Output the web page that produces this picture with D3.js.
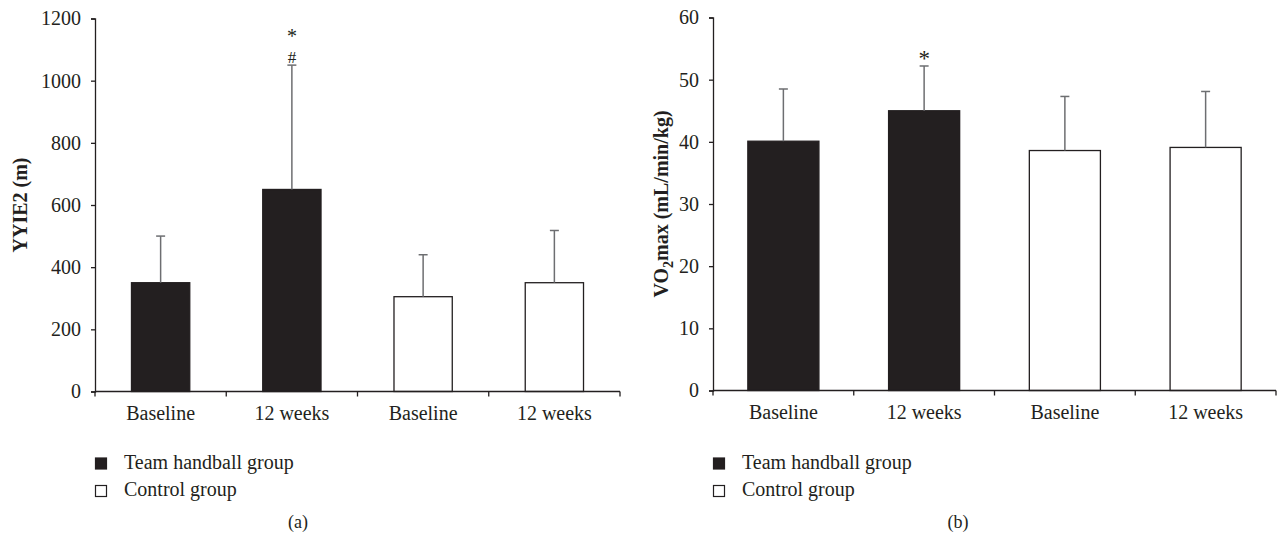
<!DOCTYPE html>
<html>
<head>
<meta charset="utf-8">
<script src="https://cdn.jsdelivr.net/npm/d3@7/dist/d3.min.js"></script>
<style>
  html, body { margin: 0; padding: 0; background: #fff; }
  svg { display: block; }
  text { font-family: "Liberation Serif", "DejaVu Serif", serif; fill: #231f20; }
</style>
</head>
<body>
<svg id="chart" width="1277" height="543" font-family="'Liberation Serif', 'DejaVu Serif', serif"></svg>
<script>
// ---- data ----
const categories = ["Baseline", "12 weeks", "Baseline", "12 weeks"];
const groups = ["Team handball group", "Team handball group", "Control group", "Control group"];
const yyie2Mean = [350, 650, 305, 350];
const yyie2SD = [150, 400, 135, 168];
const yyie2Marks = [[], ["*", "#"], [], []];
const vo2Mean = [40.1, 45.0, 38.6, 39.1];
const vo2SD = [8.4, 7.2, 8.7, 9.0];
const vo2Marks = [[], ["*"], [], []];
const yyie2Ticks = [0, 200, 400, 600, 800, 1000, 1200];
const vo2Ticks = [0, 10, 20, 30, 40, 50, 60];
const legendItems = ["Team handball group", "Control group"];

const svg = d3.select("#chart");
const dark = "#231f20";
const errColor = "#6d6e71";
const fillFor = g => g === "Team handball group" ? dark : "#ffffff";

function panel(opts) {
  const g = svg.append("g");
  const x = d3.scaleBand().domain(d3.range(categories.length)).range([opts.x0, opts.x1]).padding(0);
  const y = d3.scaleLinear().domain([0, opts.max]).range([opts.y0, opts.y1]);
  const bw = x.bandwidth() * opts.barRatio;

  // bars
  g.selectAll("rect.bar").data(opts.mean).enter().append("rect")
    .attr("x", (d, i) => x(i) + (x.bandwidth() - bw) / 2)
    .attr("y", d => y(d))
    .attr("width", bw)
    .attr("height", d => y(0) - y(d))
    .attr("fill", (d, i) => fillFor(groups[i]))
    .attr("stroke", dark)
    .attr("stroke-width", 1.3);

  // error bars
  const eb = g.selectAll("g.err").data(opts.mean).enter().append("g");
  eb.append("line")
    .attr("x1", (d, i) => x(i) + x.bandwidth() / 2)
    .attr("x2", (d, i) => x(i) + x.bandwidth() / 2)
    .attr("y1", d => y(d))
    .attr("y2", (d, i) => y(d + opts.sd[i]))
    .attr("stroke", errColor).attr("stroke-width", 1.5);
  eb.append("line")
    .attr("x1", (d, i) => x(i) + x.bandwidth() / 2 - 4.5)
    .attr("x2", (d, i) => x(i) + x.bandwidth() / 2 + 4.5)
    .attr("y1", (d, i) => y(d + opts.sd[i]))
    .attr("y2", (d, i) => y(d + opts.sd[i]))
    .attr("stroke", errColor).attr("stroke-width", 1.5);

  // significance marks
  opts.marks.forEach((m, i) => {
    if (!m.length) return;
    const top = y(opts.mean[i] + opts.sd[i]);
    const cx = x(i) + x.bandwidth() / 2;
    if (m.length === 1) {
      g.append("text").attr("x", cx).attr("y", top).attr("text-anchor", "middle")
        .attr("font-size", 23).attr("fill", "#414042").text(m[0]);
    } else {
      // "#" just above the cap, "*" stacked above it
      g.append("text").attr("x", cx).attr("y", top - 2.5).attr("text-anchor", "middle")
        .attr("font-size", 17).attr("fill", "#414042").text(m[1]);
      g.append("text").attr("x", cx).attr("y", top - 22.5).attr("text-anchor", "middle")
        .attr("font-size", 20).attr("fill", "#414042").text(m[0]);
    }
  });

  // y axis
  const ya = d3.axisLeft(y).tickValues(opts.ticks).tickSize(4).tickPadding(10).tickFormat(d3.format("d"));
  const yg = g.append("g").attr("transform", `translate(${opts.x0},0)`).call(ya);
  yg.attr("font-family", null);
  yg.select(".domain").attr("stroke", dark).attr("stroke-width", 1.3);
  yg.selectAll(".tick line").attr("stroke", dark).attr("stroke-width", 1.3);
  yg.selectAll(".tick text").attr("font-size", 20).attr("fill", dark);

  // x axis
  g.append("line").attr("x1", opts.x0).attr("x2", opts.x1).attr("y1", y(0)).attr("y2", y(0))
    .attr("stroke", dark).attr("stroke-width", 1.3);
  const bounds = d3.range(categories.length + 1).map(i => i < categories.length ? x(i) : opts.x1);
  g.selectAll("line.xt").data(bounds).enter().append("line")
    .attr("x1", d => d).attr("x2", d => d).attr("y1", y(0)).attr("y2", y(0) + 5)
    .attr("stroke", dark).attr("stroke-width", 1.3);
  g.selectAll("text.xl").data(categories).enter().append("text")
    .attr("x", (d, i) => x(i) + x.bandwidth() / 2)
    .attr("y", y(0) + 28)
    .attr("text-anchor", "middle")
    .attr("font-size", 20)
    .text(d => d);

  // y title
  const t = g.append("text")
    .attr("transform", `translate(${opts.titleX},${(opts.y0 + opts.y1) / 2}) rotate(-90)`)
    .attr("text-anchor", "middle")
    .attr("font-size", 20)
    .attr("font-weight", "bold");
  opts.title(t);

  // legend
  legendItems.forEach((name, k) => {
    const ly = 458 + k * 27.5;
    g.append("rect").attr("x", opts.x0 + 0.5).attr("y", ly).attr("width", 11).attr("height", 11)
      .attr("fill", fillFor(name)).attr("stroke", dark).attr("stroke-width", 1.2);
    g.append("text").attr("x", opts.x0 + 29).attr("y", ly + 10.5).attr("font-size", 20).text(name);
  });

  // panel label
  g.append("text").attr("x", opts.labelX).attr("y", 528).attr("text-anchor", "middle")
    .attr("font-size", 18).text(opts.label);
}

panel({
  x0: 95, x1: 620, y0: 391.5, y1: 18.5, max: 1200, barRatio: 0.444,
  mean: yyie2Mean, sd: yyie2SD, marks: yyie2Marks, ticks: yyie2Ticks,
  titleX: 27, labelX: 298, label: "(a)",
  title: t => t.text("YYIE2 (m)")
});

panel({
  x0: 713, x1: 1276, y0: 390.5, y1: 17.5, max: 60, barRatio: 0.505,
  mean: vo2Mean, sd: vo2SD, marks: vo2Marks, ticks: vo2Ticks,
  titleX: 668, labelX: 958, label: "(b)",
  title: t => {
    t.append("tspan").text("VO");
    t.append("tspan").attr("font-size", 14).attr("dy", 5).text("2");
    t.append("tspan").attr("dy", -5).text("max (mL/min/kg)");
  }
});
</script>
</body>
</html>
